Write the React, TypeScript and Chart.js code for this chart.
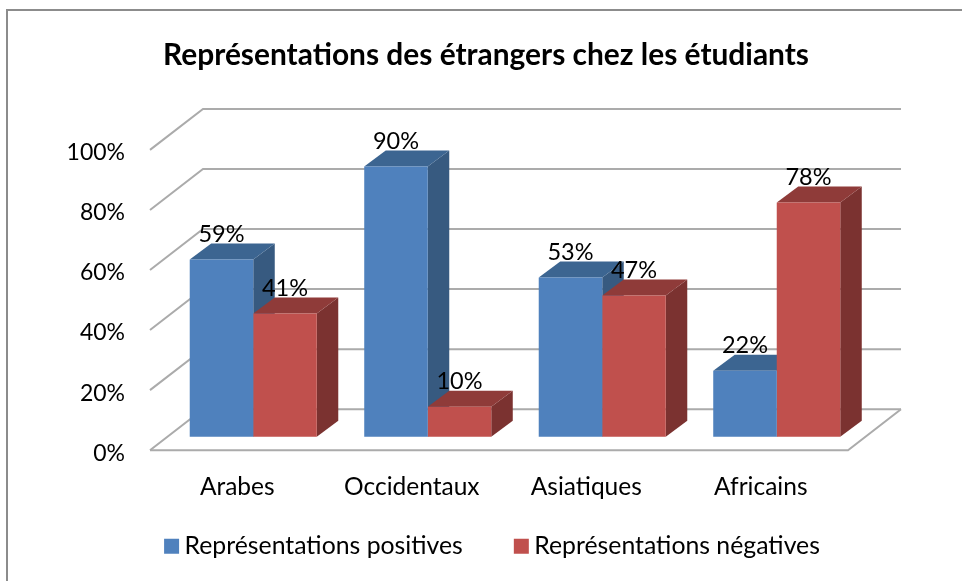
import React, { useEffect, useRef } from "react";
import { Chart, registerables } from "chart.js";

Chart.register(...registerables);

const TITLE = "Représentations des étrangers chez les étudiants";
const categories = ["Arabes", "Occidentaux", "Asiatiques", "Africains"];
const positives = [59, 90, 53, 22];
const negatives = [41, 10, 47, 78];
const seriesNames = ["Représentations positives", "Représentations négatives"];
const yTicks = [0, 20, 40, 60, 80, 100];

const FONT = "Lato, 'Open Sans', sans-serif";
const WALL = { dx: 53, dy: -41 };
const BAR_OFFSET = { dx: 16, dy: -13.5 };
const BAR_DEPTH = { dx: 21.5, dy: -16 };
const FACES = [
  { top: "#3C6591", side: "#375A80" },
  { top: "#8F3B39", side: "#7B3230" },
];

const threeD = {
  id: "threeD",
  beforeDraw(chart: any) {
    const { ctx, width, height } = chart;
    ctx.save();
    ctx.fillStyle = "#ffffff";
    ctx.fillRect(0, 0, width, height);
    ctx.strokeStyle = "#8C8C8C";
    ctx.lineWidth = 2;
    ctx.beginPath();
    ctx.moveTo(7, height);
    ctx.lineTo(7, 10);
    ctx.lineTo(width, 10);
    ctx.stroke();
    ctx.restore();
  },
  afterLayout(chart: any) {
    chart.legend.left += 71.5;
    chart.legend.right += 71.5;
    chart.legend.top = 475.75;
    chart.titleBlock.left += 62;
    chart.titleBlock.right += 62;
  },
  beforeDatasetsDraw(chart: any) {
    const { ctx, scales } = chart;
    const { x: xs, y: ys } = scales;
    const L = xs.left;
    const R = xs.right;
    ctx.save();
    ctx.strokeStyle = "#ABABAB";
    ctx.lineWidth = 2;
    for (const t of yTicks) {
      const y = ys.getPixelForValue(t);
      ctx.beginPath();
      ctx.moveTo(L, y);
      ctx.lineTo(L + WALL.dx, y + WALL.dy);
      ctx.lineTo(R + WALL.dx, y + WALL.dy);
      ctx.stroke();
    }
    const y0 = ys.getPixelForValue(0);
    ctx.beginPath();
    ctx.moveTo(L, y0);
    ctx.lineTo(R, y0);
    ctx.lineTo(R + WALL.dx, y0 + WALL.dy);
    ctx.stroke();
    ctx.restore();

    ctx.save();
    ctx.translate(BAR_OFFSET.dx, BAR_OFFSET.dy);
    chart.data.datasets.forEach((_: any, di: number) => {
      const meta = chart.getDatasetMeta(di);
      meta.data.forEach((bar: any) => {
        const { x, y, base, width: w } = bar.getProps(["x", "y", "base", "width"]);
        const l = x - w / 2;
        const r = x + w / 2;
        const { dx, dy } = BAR_DEPTH;
        ctx.fillStyle = FACES[di].side;
        ctx.beginPath();
        ctx.moveTo(r, y);
        ctx.lineTo(r + dx, y + dy);
        ctx.lineTo(r + dx, base + dy);
        ctx.lineTo(r, base);
        ctx.closePath();
        ctx.fill();
        ctx.fillStyle = FACES[di].top;
        ctx.beginPath();
        ctx.moveTo(l, y);
        ctx.lineTo(l + dx, y + dy);
        ctx.lineTo(r + dx, y + dy);
        ctx.lineTo(r, y);
        ctx.closePath();
        ctx.fill();
      });
    });
    // the front faces are drawn by the bar elements inside this translation
  },
  afterDatasetsDraw(chart: any) {
    const { ctx } = chart;
    ctx.restore();
    ctx.save();
    ctx.fillStyle = "#000000";
    ctx.font = `23.5px ${FONT}`;
    ctx.textAlign = "center";
    ctx.textBaseline = "middle";
    chart.data.datasets.forEach((ds: any, di: number) => {
      chart.getDatasetMeta(di).data.forEach((bar: any, i: number) => {
        const { x, y } = bar.getProps(["x", "y"]);
        ctx.fillText(`${ds.data[i]}%`, x + BAR_OFFSET.dx, y + BAR_OFFSET.dy - 25);
      });
    });
    ctx.restore();
  },
};

export default function App() {
  const ref = useRef<HTMLCanvasElement>(null);
  useEffect(() => {
    document.body.style.margin = "0";
    const chart = new Chart(ref.current!, {
      type: "bar",
      data: {
        labels: categories,
        datasets: [
          { label: seriesNames[0], data: positives, backgroundColor: "#4F81BD", clip: false },
          { label: seriesNames[1], data: negatives, backgroundColor: "#C0504D", clip: false },
        ],
      },
      options: {
        responsive: false,
        animation: false,
        layout: { padding: { right: 114, bottom: -22 } },
        datasets: { bar: { categoryPercentage: 0.728, barPercentage: 1 } },
        plugins: {
          title: {
            display: true,
            text: TITLE,
            color: "#000000",
            font: { family: FONT, size: 29.9, weight: "bold" },
            padding: { top: 37, bottom: 77 },
          },
          legend: {
            position: "bottom",
            labels: {
              color: "#000000",
              font: { family: FONT, size: 24.8 },
              usePointStyle: true,
              pointStyle: "rect",
              boxWidth: 1,
              boxHeight: 15,
              padding: 58,
            },
          },
          tooltip: { enabled: false },
        },
        scales: {
          x: {
            grid: { display: false },
            border: { display: false },
            ticks: { color: "#000000", font: { family: FONT, size: 24.5 }, padding: 14, maxRotation: 0 },
            afterFit(s: any) { s.height = 60; },
          },
          y: {
            min: 0,
            max: 100,
            grid: { display: false },
            border: { display: false },
            ticks: {
              color: "#000000",
              font: { family: FONT, size: 23 },
              stepSize: 20,
              padding: 17,
              labelOffset: 3,
              callback: (v: any) => `${v}%`,
            },
            afterFit(s: any) { s.width = 150; },
          },
        },
      },
      plugins: [threeD],
    } as any);
    return () => chart.destroy();
  }, []);
  return <canvas ref={ref} width={962} height={581} style={{ display: "block" }} />;
}
